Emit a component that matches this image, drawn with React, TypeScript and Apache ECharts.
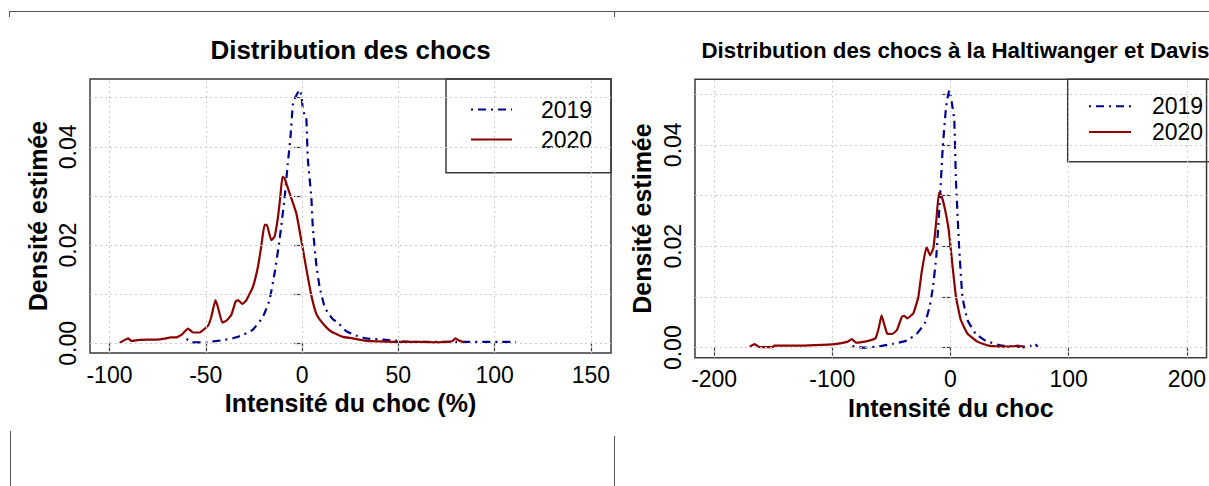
import React, { useEffect, useRef } from 'react';
import * as echarts from 'echarts';

// Years shown in both panels
const years = ['2019', '2020'];

// Axis ticks
const shockTicksPct = [-100, -50, 0, 50, 100, 150];
const shockTicksHD = [-200, -100, 0, 100, 200];
const densityTicks = [0, 0.01, 0.02, 0.03, 0.04, 0.05];
const densityTickLabels = [0, 0.02, 0.04];

// Estimated density of the shock intensity (%), [intensity, density]
const pct2019: [number, number][] = [
  [-60, 0.0009], [-57, 0.0002], [-50, 0.0002], [-42, 0.0006], [-36, 0.001], [-30.7, 0.0017],
  [-25.5, 0.0028], [-20.3, 0.0054], [-16.9, 0.0088], [-14.3, 0.0142], [-11.7, 0.021],
  [-9.1, 0.0295], [-7.4, 0.0366], [-6.0, 0.042], [-4.8, 0.0485], [-3.9, 0.0497], [-1.3, 0.0516],
  [-0.4, 0.0505], [0.4, 0.0478], [1.3, 0.0465], [2.2, 0.046], [3.0, 0.0375], [4.8, 0.0298],
  [5.6, 0.0235], [7.4, 0.016], [9.1, 0.0115], [11.7, 0.0074], [13.5, 0.0062], [16, 0.0049],
  [18.6, 0.0042], [22.9, 0.0025], [28, 0.0016], [33.3, 0.001], [43.7, 0.0007], [55.8, 0.0003],
  [67.8, 0.0003], [80, 0.0003], [102.4, 0.0003], [111, 0.0003],
];
const pct2020: [number, number][] = [
  [-94.7, 0.0001], [-92, 0.0007], [-90.3, 0.001], [-88.6, 0.0005], [-84.3, 0.0007], [-73.9, 0.0008],
  [-67.8, 0.0012], [-65.2, 0.0012], [-62.7, 0.0017], [-59.2, 0.003], [-56.6, 0.0022], [-53.2, 0.0022],
  [-48.8, 0.0036], [-47.1, 0.0054], [-45.0, 0.0088], [-43.7, 0.0074], [-41.4, 0.0042], [-39.3, 0.0046],
  [-36.7, 0.0058], [-34.5, 0.0085], [-33.3, 0.0088], [-31.0, 0.008], [-28.9, 0.0088], [-25.5, 0.0115],
  [-22.9, 0.0156], [-21.2, 0.0197], [-19.5, 0.0241], [-18.3, 0.0241], [-16.0, 0.021], [-14.3, 0.0217],
  [-12.6, 0.0254], [-11.3, 0.0298], [-10.2, 0.0339], [-9.1, 0.0336], [-6.5, 0.0306], [-3.0, 0.0265],
  [-0.4, 0.021], [2.2, 0.0152], [4.8, 0.0098], [7.4, 0.006], [10.0, 0.0044], [12.5, 0.0033],
  [15.1, 0.0024], [19.4, 0.0016], [21.2, 0.0013], [26.3, 0.001], [33.3, 0.0005], [40, 0.0004],
  [48.9, 0.0003], [60, 0.0003], [70, 0.0002], [76, 0.0003], [78.2, 0.0005], [79.6, 0.001],
  [81.7, 0.0005], [84.3, 0.0002],
];

// Estimated density of the Haltiwanger & Davis shock measure, [intensity, density]
const hd2019: [number, number][] = [
  [-83, 0.0003], [-72.9, 0], [-60, 0.0003], [-48, 0.0008], [-37, 0.0014], [-28.7, 0.0027],
  [-21.8, 0.0048], [-17.6, 0.0081], [-14.8, 0.012], [-12.0, 0.018], [-9.3, 0.0278], [-6.5, 0.0396],
  [-3.7, 0.0475], [-1.0, 0.0508], [1.2, 0.0482], [3.2, 0.0449], [4.6, 0.0331], [7.3, 0.0199],
  [10.1, 0.0101], [14.3, 0.0055], [21.2, 0.0028], [29.5, 0.0014], [43.4, 0.0004], [60, 0.0002],
  [68, 0.0004], [71, 0.0009], [73.8, 0.0002],
];
const hd2020: [number, number][] = [
  [-169.9, 0.0002], [-165.7, 0.0007], [-161.5, 0.0001], [-150.5, 0.0001], [-149.1, 0.0004],
  [-130, 0.0004], [-114.5, 0.0005], [-97.8, 0.0007], [-86.8, 0.0012], [-83.5, 0.0017],
  [-79.9, 0.001], [-68.8, 0.0014], [-63.3, 0.0019], [-60.5, 0.0041], [-58.3, 0.0064],
  [-56.3, 0.0048], [-53.6, 0.0028], [-49.4, 0.0027], [-45.3, 0.0035], [-41.1, 0.0061],
  [-39.2, 0.0063], [-36.4, 0.0058], [-31.4, 0.0068], [-27.2, 0.01], [-24.5, 0.0147],
  [-20.3, 0.0199], [-17.3, 0.0182], [-14.5, 0.0196], [-12.0, 0.025], [-9.8, 0.0305],
  [-7.9, 0.0301], [-5.1, 0.0278], [-1.5, 0.0232], [1.8, 0.016], [4.6, 0.0101], [8.7, 0.0055],
  [14.3, 0.0028], [22.6, 0.0012], [32.2, 0.0004], [50.2, 0.0002], [54, 0.0003], [57.1, 0.0004],
  [62.7, 0],
];

const FONT = '"Liberation Sans", Arial, sans-serif';
const BLUE = '#00008B';
const RED = '#8B0000';
const FRAME = '#3a3a3a';
const DOT_DASH = [2, 5, 8, 5];

function xAxisFor(gridIndex: number, min: number, max: number, ticks: number[], name: string) {
  return {
    type: 'value',
    gridIndex,
    min,
    max,
    axisLine: { show: false },
    axisTick: { show: true, customValues: ticks, length: 8, lineStyle: { color: FRAME, width: 1.2 } },
    axisLabel: { customValues: ticks, color: '#000', fontSize: 23, fontFamily: FONT, margin: 10 },
    splitLine: { show: false },
    name,
    nameLocation: 'middle',
    nameGap: 36,
    nameTextStyle: { fontSize: 25, fontWeight: 'bold', color: '#000', fontFamily: FONT },
  };
}

function yAxisFor(gridIndex: number, min: number, max: number, nameGap: number) {
  return {
    type: 'value',
    gridIndex,
    min,
    max,
    axisLine: { show: false },
    axisTick: { show: true, customValues: densityTicks, length: 8, lineStyle: { color: FRAME, width: 1.2 } },
    axisLabel: {
      customValues: densityTickLabels,
      rotate: 90,
      color: '#000',
      fontSize: 23,
      fontFamily: FONT,
      margin: 11,
      formatter: (v: number) => v.toFixed(2),
    },
    splitLine: { show: false },
    name: 'Densité estimée',
    nameLocation: 'middle',
    nameGap,
    nameTextStyle: { fontSize: 25, fontWeight: 'bold', color: '#000', fontFamily: FONT },
  };
}

function gridLines(index: number, xTicks: number[]) {
  return {
    name: 'grid-' + index,
    type: 'line',
    xAxisIndex: index,
    yAxisIndex: index,
    data: [],
    silent: true,
    z: 1,
    markLine: {
      silent: true,
      symbol: ['none', 'none'],
      label: { show: false },
      lineStyle: { color: '#cccccc', type: [2, 3], width: 1 },
      data: [
        ...xTicks.map((v) => ({ xAxis: v })),
        ...densityTicks.map((v) => ({ yAxis: v })),
      ],
    },
  };
}

function curve(index: number, name: string, data: [number, number][], color: string, dash: any) {
  return {
    name,
    type: 'line',
    xAxisIndex: index,
    yAxisIndex: index,
    data,
    showSymbol: false,
    symbol: 'none',
    smooth: 0.12,
    z: 3,
    lineStyle: { color, width: 2.2, type: dash },
    itemStyle: { color },
  };
}

function legendFor(left: number, top: number, gap: number, itemWidth: number, textPad: number) {
  return {
    left,
    top,
    orient: 'vertical',
    padding: 0,
    itemWidth,
    itemHeight: 24,
    itemGap: gap,
    selectedMode: false,
    data: years,
    itemStyle: { opacity: 0 },
    textStyle: { fontSize: 23, color: '#000', fontFamily: FONT, padding: [0, 0, 0, textPad] },
  };
}

export default function App() {
  const ref = useRef<HTMLDivElement>(null);

  useEffect(() => {
    if (!ref.current) return;
    const chart = echarts.init(ref.current, null, { renderer: 'svg' });
    const frameLine = (x1: number, y1: number, x2: number, y2: number) => ({
      type: 'line',
      shape: { x1, y1, x2, y2 },
      style: { stroke: '#555', lineWidth: 1 },
      silent: true,
    });
    chart.setOption({
      animation: false,
      backgroundColor: '#fff',
      grid: [
        { left: 90, top: 79, width: 521, height: 274, show: true, borderColor: FRAME, borderWidth: 1.5, backgroundColor: 'transparent' },
        { left: 695, top: 79.3, width: 521, height: 278.4, show: true, borderColor: FRAME, borderWidth: 1.5, backgroundColor: 'transparent' },
      ],
      xAxis: [
        xAxisFor(0, -110.1, 160.4, shockTicksPct, 'Intensité du choc (%)'),
        xAxisFor(1, -216.2, 216.7, shockTicksHD, 'Intensité du choc'),
      ],
      yAxis: [
        yAxisFor(0, -0.00197, 0.0538, 40),
        yAxisFor(1, -0.00197, 0.0529, 41),
      ],
      legend: [
        legendFor(470, 98, 7, 41, 24),
        legendFor(1088, 94.7, 2.7, 42, 16),
      ],
      series: [
        gridLines(0, shockTicksPct),
        gridLines(1, shockTicksHD),
        curve(0, years[0], pct2019, BLUE, DOT_DASH),
        curve(0, years[1], pct2020, RED, 'solid'),
        curve(1, years[0], hd2019, BLUE, DOT_DASH),
        curve(1, years[1], hd2020, RED, 'solid'),
      ],
      graphic: [
        {
          type: 'text',
          x: 350.5,
          y: 50,
          style: { text: 'Distribution des chocs', fontSize: 26, fontWeight: 'bold', fontFamily: FONT, fill: '#000', align: 'center', verticalAlign: 'middle' },
        },
        {
          type: 'text',
          x: 955.5,
          y: 50,
          style: { text: 'Distribution des chocs à la Haltiwanger et Davis', fontSize: 22.3, fontWeight: 'bold', fontFamily: FONT, fill: '#000', align: 'center', verticalAlign: 'middle' },
        },
        // legend frames
        { type: 'rect', shape: { x: 446, y: 79, width: 165, height: 93.7 }, style: { fill: 'none', stroke: FRAME, lineWidth: 1.5 }, silent: true },
        { type: 'rect', shape: { x: 1067.7, y: 79.3, width: 160, height: 82.4 }, style: { fill: 'none', stroke: FRAME, lineWidth: 1.5 }, silent: true },
        // surrounding table rules
        frameLine(9, 11.5, 1209, 11.5),
        frameLine(9.5, 11.5, 9.5, 17),
        frameLine(614.5, 11.5, 614.5, 17),
        frameLine(10.5, 431, 10.5, 486),
        frameLine(614.5, 436, 614.5, 486),
      ],
    });
    return () => chart.dispose();
  }, []);

  return (
    <div
      ref={ref}
      style={{ position: 'absolute', left: 0, top: 0, width: 1209, height: 486, background: '#fff' }}
    />
  );
}
